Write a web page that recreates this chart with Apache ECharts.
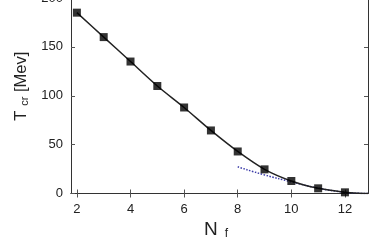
<!DOCTYPE html>
<html><head><meta charset="utf-8">
<script src="https://cdn.jsdelivr.net/npm/echarts@6/dist/echarts.min.js"></script>
<style>html,body{margin:0;padding:0;background:#fff}#c{width:379px;height:242px}</style>
</head><body><div id="c"></div>
<script>
const nf = [2,3,4,5,6,7,8,9,10,11,12];
const tcr = [185,160,135,110,88,64.5,43,24.7,12.8,5.3,1.2];
const tailX = [12.5,12.86];
const tailY = [0.2,0];
const fitX = [8,9,10,11,12,12.5,12.86];
const fitY = [27.3,19,12,5.5,1.2,0.2,0];
const xTicks = [2,4,6,8,10,12];
const yTicks = [0,50,100,150,200];

const font = '"Liberation Sans", Arial, sans-serif';
const lineData = nf.map((x,i)=>[x,tcr[i]]).concat(tailX.map((x,i)=>[x,tailY[i]]));
const fitData = fitX.map((x,i)=>[x,fitY[i]]);
const ptData = nf.map((x,i)=>[x,tcr[i]]);

const axCommon = {
  axisLine:{show:true,lineStyle:{color:'#333',width:1}},
  splitLine:{show:false}
};
const chart = echarts.init(document.getElementById('c'));
chart.setOption({
  animation:false,
  grid:{left:71,right:11,top:-2,bottom:48.5,show:false,containLabel:false,outerBoundsMode:'none'},
  xAxis:[{
    type:'value',min:1.78,max:12.86,position:'bottom',...axCommon,
    axisTick:{inside:true,length:4,customValues:xTicks,lineStyle:{color:'#555'}},
    axisLabel:{customValues:xTicks,fontFamily:font,fontSize:13,color:'#222',margin:9},
    name:'{a|N}{s|f}',nameLocation:'middle',nameGap:20,
    nameTextStyle:{fontFamily:font,color:'#222',padding:[0,7,0,0],rich:{
      a:{fontSize:19,fontFamily:font,color:'#222',verticalAlign:'bottom',lineHeight:22},
      s:{fontSize:12,fontFamily:font,color:'#222',padding:[12,0,0,7],verticalAlign:'bottom'}}}
  },{
    type:'value',min:1.78,max:12.86,position:'top',...axCommon,
    axisTick:{inside:true,length:4,customValues:xTicks,lineStyle:{color:'#555'}},
    axisLabel:{show:false}
  }],
  yAxis:[{
    type:'value',min:0,max:200,position:'left',...axCommon,
    axisTick:{inside:true,length:4,customValues:yTicks,lineStyle:{color:'#555'}},
    axisLabel:{customValues:yTicks,fontFamily:font,fontSize:13,color:'#222',margin:8},
    name:'{a|T}{s|cr}{a| [Mev]}',nameLocation:'middle',nameGap:40,nameRotate:90,
    nameTextStyle:{fontFamily:font,color:'#222',padding:[0,0,0,19],rich:{
      a:{fontSize:16.5,fontFamily:font,color:'#222',verticalAlign:'bottom',lineHeight:20},
      s:{fontSize:11,fontFamily:font,color:'#222',padding:[10,0,0,5],verticalAlign:'bottom'}}}
  },{
    type:'value',min:0,max:200,position:'right',...axCommon,
    axisTick:{inside:true,length:4,customValues:yTicks,lineStyle:{color:'#555'}},
    axisLabel:{show:false}
  }],
  series:[
    {type:'line',data:fitData,showSymbol:false,symbol:'none',smooth:true,
     lineStyle:{color:'#3b3ba8',width:1.5,type:'dotted'},z:2},
    {type:'line',data:lineData,showSymbol:false,symbol:'none',smooth:0.3,
     lineStyle:{color:'#222',width:1.5},z:3},
    {type:'scatter',data:ptData,symbol:'rect',symbolSize:8,
     itemStyle:{color:'#000'},z:4}
  ]
});
</script></body></html>
